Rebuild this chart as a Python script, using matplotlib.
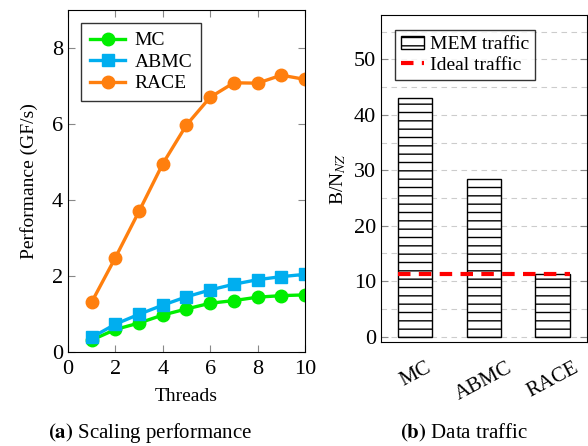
import matplotlib
matplotlib.use("Agg")
import matplotlib.pyplot as plt
import numpy as np

plt.rcParams['font.family'] = ['Liberation Serif', 'DejaVu Serif']
plt.rcParams['mathtext.fontset'] = 'stix'
plt.rcParams['hatch.linewidth'] = 1.0

# (a) scaling performance
threads = [1, 2, 3, 4, 5, 6, 7, 8, 9, 10]
perf_mc = [0.31, 0.59, 0.76, 0.97, 1.13, 1.28, 1.35, 1.44, 1.48, 1.50]
perf_abmc = [0.38, 0.73, 0.99, 1.23, 1.45, 1.63, 1.78, 1.90, 1.98, 2.04]
perf_race = [1.31, 2.48, 3.70, 4.95, 5.97, 6.70, 7.08, 7.07, 7.28, 7.17]

# (b) data traffic
methods = ["MC", "ABMC", "RACE"]
mem_traffic = [43.0, 28.5, 11.2]
ideal_traffic = 11.2

fig = plt.figure(figsize=(5.88, 4.46), dpi=100)

# --- left plot
ax1 = fig.add_axes([0.1156, 0.211, 0.4031, 0.767])
ax1.plot(threads, perf_mc, color='#00ee00', lw=2.4, marker='o', ms=9, label='MC')
ax1.plot(threads, perf_abmc, color='#00aeef', lw=2.4, marker='s', ms=9, label='ABMC')
ax1.plot(threads, perf_race, color='#ff7f0e', lw=2.4, marker='o', ms=9, label='RACE')
ax1.set_xlim(0, 10)
ax1.set_ylim(0, 9)
ax1.set_xticks([0, 2, 4, 6, 8, 10])
ax1.set_yticks([0, 2, 4, 6, 8])
ax1.tick_params(direction='in', top=True, right=True, color='#888888',
                labelsize=16, length=5)
ax1.tick_params(axis='x', pad=6)
ax1.set_xlabel('Threads', fontsize=14, labelpad=6)
ax1.set_ylabel('Performance (GF/s)', fontsize=14, labelpad=10)
leg1 = ax1.legend(loc='upper left', fontsize=14, fancybox=False,
                  edgecolor='black', handlelength=1.8, handletextpad=0.5,
                  borderpad=0.45, labelspacing=0.2,
                  bbox_to_anchor=(0.015, 0.99))
leg1.get_frame().set_linewidth(1.0)

# --- right plot
ax2 = fig.add_axes([0.648, 0.233, 0.350, 0.733])
x = np.arange(len(methods))
width = 0.5
ax2.set_axisbelow(True)
bars = ax2.bar(x, mem_traffic, width, color='white', edgecolor='black',
               hatch='--', lw=1.0, label='MEM traffic')
ideal = ax2.hlines(ideal_traffic, x[0] - width / 2, x[-1] + width / 2,
                   colors='red', linestyles=(0, (3, 2)), lw=3,
                   label='Ideal traffic')
ax2.set_xlim(-0.5, 2.5)
ax2.set_ylim(-1, 58)
ax2.set_xticks(x)
ax2.set_xticklabels(methods, rotation=28, fontsize=15)
ax2.set_yticks([0, 10, 20, 30, 40, 50])
ax2.set_yticks(np.arange(5, 60, 10), minor=True)
ax2.grid(axis='y', which='both', color='#cccccc', linestyle=(0, (5, 4)), lw=0.8)
ax2.tick_params(axis='y', which='both', direction='in', left=True, right=True,
                color='#888888', labelsize=16, length=5)
ax2.tick_params(axis='y', which='minor', length=0)
ax2.tick_params(axis='x', length=0, pad=12)
ax2.set_ylabel('B/N$_{NZ}$', fontsize=14)
leg2 = ax2.legend([bars, ideal], ['MEM traffic', 'Ideal traffic'],
                  loc='upper left', fontsize=14, fancybox=False,
                  edgecolor='black', handlelength=1.2, borderpad=0.3,
                  labelspacing=0.15, handletextpad=0.3,
                  bbox_to_anchor=(0.02, 0.985))
leg2.get_frame().set_linewidth(1.0)

fig.text(0.255, 0.018, r'$\mathbf{(a)}$ Scaling performance', ha='center',
         fontsize=15)
fig.text(0.788, 0.018, r'$\mathbf{(b)}$ Data traffic', ha='center', fontsize=15)

fig.savefig('out.png', dpi=100)
